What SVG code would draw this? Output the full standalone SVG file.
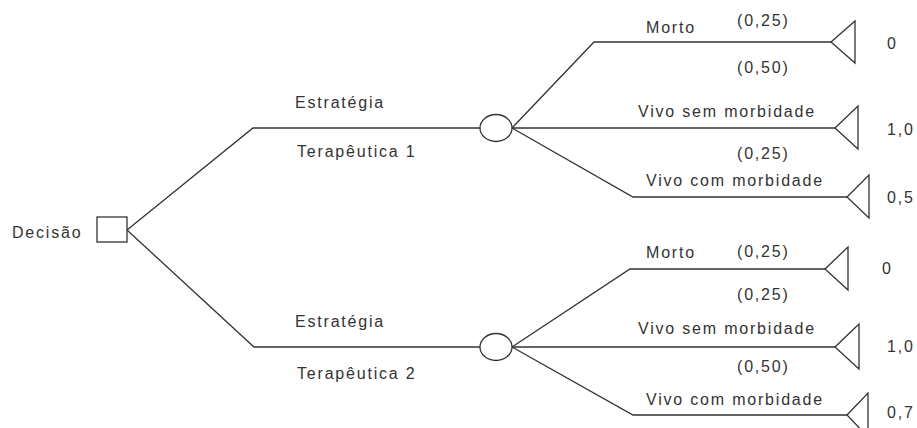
<svg xmlns="http://www.w3.org/2000/svg" width="917" height="428" viewBox="0 0 917 428">
<style>
text{font-family:"Liberation Sans",Arial,sans-serif;font-size:16px;fill:#333;letter-spacing:1.8px}
.ln{fill:none;stroke:#333;stroke-width:1.3}
.nd{fill:#fff;stroke:#333;stroke-width:1.3}
</style>
<rect width="917" height="428" fill="#fff"/>
<g id="connectors">
<polyline class="ln" points="127,230 253,128 480,128"/>
<polyline class="ln" points="127,230 254,347 480,347"/>
<polyline class="ln" points="512,128 594,42 831,42"/>
<line class="ln" x1="512" y1="128" x2="835" y2="128"/>
<polyline class="ln" points="512,128 633,197 847,197"/>
<polyline class="ln" points="512,347 630,269 825,269"/>
<line class="ln" x1="512" y1="347" x2="835" y2="347"/>
<polyline class="ln" points="512,347 633,415 847,415"/>
</g>
<g id="decision">
<rect class="nd" x="97" y="217" width="30" height="25"/>
<text x="12" y="238">Decisão</text>
</g>
<g id="strategy1">
<text x="295" y="108">Estratégia</text>
<text x="297" y="157">Terapêutica 1</text>
</g>
<g id="strategy2">
<text x="295" y="327">Estratégia</text>
<text x="297" y="379">Terapêutica 2</text>
</g>
<g id="chance1">
<ellipse class="nd" cx="496" cy="128" rx="16" ry="13.5"/>
</g>
<g id="chance2">
<ellipse class="nd" cx="496" cy="347" rx="16" ry="13.5"/>
</g>
<g id="labels1">
<text x="646" y="33">Morto</text>
<text x="737" y="26">(0,25)</text>
<text x="737" y="73">(0,50)</text>
<text x="638" y="117">Vivo sem morbidade</text>
<text x="737" y="159">(0,25)</text>
<text x="646" y="186">Vivo com morbidade</text>
</g>
<g id="labels2">
<text x="646" y="258">Morto</text>
<text x="737" y="257">(0,25)</text>
<text x="737" y="300">(0,25)</text>
<text x="638" y="334">Vivo sem morbidade</text>
<text x="737" y="372">(0,50)</text>
<text x="646" y="405">Vivo com morbidade</text>
</g>
<g id="t1a"><polygon class="nd" points="831,42 855,21 855,63"/><text x="887" y="49">0</text></g>
<g id="t1b"><polygon class="nd" points="835,128 858,106 858,149"/><text x="887" y="135">1,0</text></g>
<g id="t1c"><polygon class="nd" points="847,197 869,175 869,218"/><text x="887" y="203">0,5</text></g>
<g id="t2a"><polygon class="nd" points="825,269 848,247 848,290"/><text x="882" y="274">0</text></g>
<g id="t2b"><polygon class="nd" points="835,347 859,324 859,369"/><text x="887" y="352">1,0</text></g>
<g id="t2c"><polygon class="nd" points="847,415 868,393 868,437"/><text x="887" y="418">0,7</text></g>
</svg>
